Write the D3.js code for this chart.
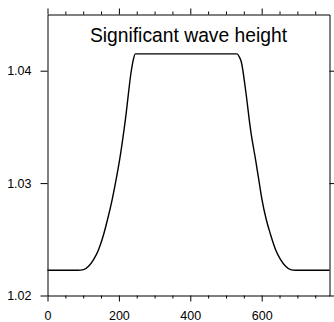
<!DOCTYPE html>
<html>
<head>
<meta charset="utf-8">
<script src="https://cdn.jsdelivr.net/npm/d3@7"></script>
<style>
  html, body { margin: 0; padding: 0; background: #fff; }
  svg { display: block; }
  text { font-family: "Liberation Sans", Arial, Helvetica, sans-serif; fill: #000; }
</style>
</head>
<body>
<svg id="chart" width="334" height="322"></svg>
<script>
// ---- data ----
const title = "Significant wave height";
const xValues = [0, 85, 101, 115, 129, 143, 157, 168, 181, 192, 202, 218, 235, 240, 246,
                 531, 537, 543, 555, 569, 583, 592, 601, 613, 625, 639, 653, 667, 681, 695, 790];
const yValues = [1.02225, 1.02225, 1.0223, 1.0226, 1.02319, 1.02408, 1.02541, 1.02674, 1.02851, 1.03028, 1.03206, 1.0356, 1.04004, 1.04092, 1.0415,
                 1.0415, 1.04125, 1.04077, 1.03826, 1.03472, 1.03206, 1.03028, 1.02851, 1.02674, 1.02541, 1.02408, 1.02319, 1.0226, 1.0223, 1.02225, 1.02225];
const xMajorTicks = [0, 200, 400, 600];
const xMinorTicks = [50, 100, 150, 250, 300, 350, 450, 500, 550, 650, 700, 750];
const yMajorTicks = [1.02, 1.03, 1.04];
const xDomain = [0, 790];
const yDomain = [1.02, 1.045];

// ---- layout ----
const svg = d3.select("#chart");
const L = 47.5, R = 329.5, T = 14.5, B = 295.5;

const x = d3.scaleLinear().domain(xDomain).range([L, R]);
const y = d3.scaleLinear().domain(yDomain).range([B, T]);

function styleAxis(g) {
  g.select(".domain").attr("stroke", "#000").attr("stroke-width", 1);
  g.selectAll(".tick line").attr("stroke", "#000").attr("stroke-width", 1);
  g.selectAll(".tick text").attr("font-family", "Liberation Sans, Arial, sans-serif");
}

// bottom axis
const gb = svg.append("g").attr("transform", `translate(0,${B})`)
  .call(d3.axisBottom(x).tickValues(xMajorTicks).tickSize(6).tickSizeOuter(0).tickPadding(10).tickFormat(d3.format("d")));
styleAxis(gb);
gb.selectAll(".tick text").attr("font-size", 12.5);
svg.append("g").attr("transform", `translate(0,${B})`)
  .call(d3.axisBottom(x).tickValues(xMinorTicks).tickSize(3).tickSizeOuter(0).tickFormat(""))
  .call(g => { g.select(".domain").remove(); styleAxis(g); });

// top axis
const gt = svg.append("g").attr("transform", `translate(0,${T})`)
  .call(d3.axisTop(x).tickValues(xMajorTicks).tickSize(6).tickSizeOuter(0).tickFormat(""));
styleAxis(gt);
svg.append("g").attr("transform", `translate(0,${T})`)
  .call(d3.axisTop(x).tickValues(xMinorTicks).tickSize(3).tickSizeOuter(0).tickFormat(""))
  .call(g => { g.select(".domain").remove(); styleAxis(g); });

// left axis
const gl = svg.append("g").attr("transform", `translate(${L},0)`)
  .call(d3.axisLeft(y).tickValues(yMajorTicks).tickSize(7).tickSizeOuter(0).tickPadding(9).tickFormat(d3.format(".2f")));
styleAxis(gl);
gl.selectAll(".tick text").attr("font-size", 12.5);

// right axis
const gr = svg.append("g").attr("transform", `translate(${R},0)`)
  .call(d3.axisRight(y).tickValues(yMajorTicks).tickSize(7).tickSizeOuter(0).tickFormat(""));
styleAxis(gr);

// line
const pts = xValues.map((v, i) => [v, yValues[i]]);
const line = d3.line().x(d => x(d[0])).y(d => y(d[1])).curve(d3.curveMonotoneX);
svg.append("path").datum(pts)
  .attr("d", line)
  .attr("fill", "none")
  .attr("stroke", "#000")
  .attr("stroke-width", 1.4);

// title
svg.append("text")
  .attr("x", (L + R) / 2)
  .attr("y", 42)
  .attr("text-anchor", "middle")
  .attr("font-size", 19.3)
  .text(title);
</script>
</body>
</html>
